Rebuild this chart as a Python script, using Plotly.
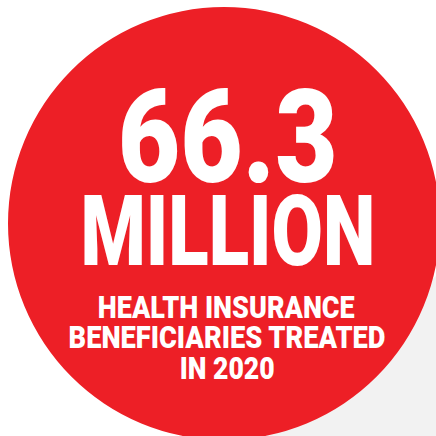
import plotly.graph_objects as go

# ---- data ----
headline_value = "66.3"
headline_unit = "MILLION"
caption_lines = ["HEALTH INSURANCE", "BENEFICIARIES TREATED", "IN 2020"]

W = H = 436
RED = "#ED1F26"
GRAY = "#F2F2F2"
FONT = "Roboto, Liberation Sans, Arial, sans-serif"

fig = go.Figure()
fig.add_trace(go.Scatter(x=[0, W], y=[0, H], mode="markers",
                         marker=dict(opacity=0), hoverinfo="skip", showlegend=False))

shapes = [
    dict(type="path", path="M 436 276 L 255 436 L 450 450 L 450 276 Z",
         xref="x", yref="y", fillcolor=GRAY, line=dict(width=0), layer="below"),
    dict(type="circle", xref="x", yref="y", x0=8, y0=7, x1=440, y1=440,
         fillcolor=RED, line=dict(width=0), layer="below"),
]

# (text, x-center, y-center, size, target width in px)
lines = [
    (headline_value, 227.5, 137, 129, 220),
    (headline_unit, 227.5, 231, 98, 295),
]
cap_y = [307, 337, 368]
cap_w = [257, 317, 95]
for line, yy, tw in zip(caption_lines, cap_y, cap_w):
    lines.append((line, 226.5, yy, 32, tw))

annotations = []
for txt, xx, yy, sz, tw in lines:
    annotations.append(dict(text=txt, x=xx, y=yy, xref="x", yref="y",
                            showarrow=False, xanchor="center", yanchor="middle",
                            font=dict(family=FONT, size=sz, color="white", weight=900)))
widths = [l[4] for l in lines]

fig.update_layout(
    width=W, height=H,
    margin=dict(l=0, r=0, t=0, b=0),
    paper_bgcolor="white", plot_bgcolor="white",
    xaxis=dict(range=[0, W], visible=False, fixedrange=True),
    yaxis=dict(range=[H, 0], visible=False, fixedrange=True),
    shapes=shapes, annotations=annotations,
    showlegend=False,
)

post = """
document.body.style.margin = '0';
document.body.style.overflow = 'hidden';
var tw = %s;
function condense(){
  var gd = document.getElementById('{plot_id}');
  gd.querySelectorAll('g.annotation').forEach(function(g){
    var i = parseInt(g.getAttribute('data-index'));
    var t = g.querySelector('text.annotation-text');
    if (t && !isNaN(i)) {
      t.style.transform = 'none';
      var w = t.getBBox().width;
      if (w > 0) {
        t.style.transformBox = 'fill-box';
        t.style.transformOrigin = 'center';
        t.style.transform = 'scaleX(' + (tw[i] / w) + ')';
      }
    }
  });
}
condense();
setTimeout(condense, 100);
if (document.fonts && document.fonts.ready) { document.fonts.ready.then(condense); }
""" % (str(widths))

fig.write_html("out.html", config={"displayModeBar": False, "responsive": False},
               post_script=post)
